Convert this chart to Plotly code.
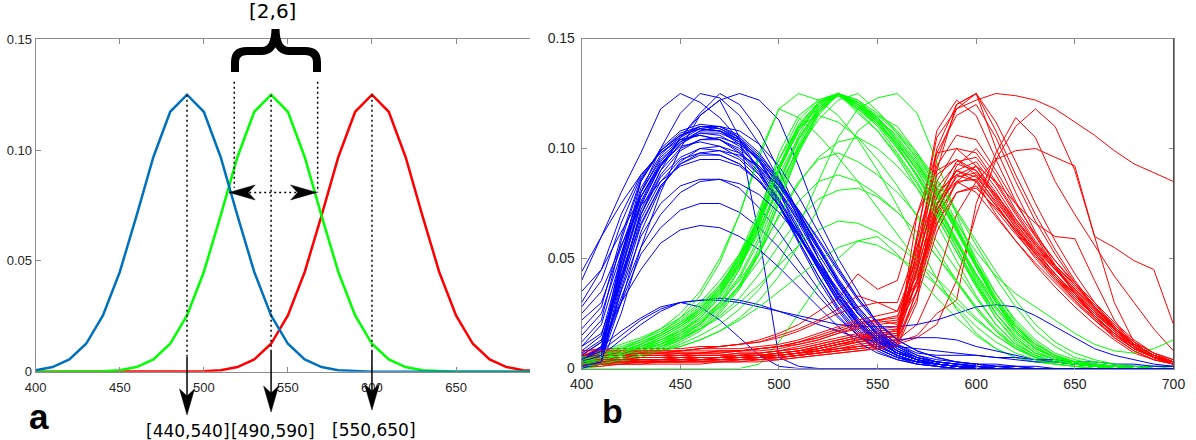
import plotly.graph_objects as go

W, H = 1196, 440

# ---------------- panel a : idealised sensitivity curves ----------------
wl_a = [400, 410, 420, 430, 440, 450, 460, 470, 480, 490, 500, 510, 520, 530, 540, 550,
        560, 570, 580, 590, 600, 610, 620, 630, 640, 650, 660, 670, 680, 690, 700]
blue_a = [0.0007, 0.0021, 0.0055, 0.0126, 0.0254, 0.0450, 0.0704, 0.0969, 0.1173, 0.125,
          0.1173, 0.0969, 0.0704, 0.0450, 0.0254, 0.0126, 0.0055, 0.0021, 0.0007, 0.0002,
          0, 0, 0, 0, 0, 0, 0, 0, 0, 0, 0]
green_a = [0, 0, 0, 0, 0.0002, 0.0007, 0.0021, 0.0055, 0.0126, 0.0254, 0.0450, 0.0704,
           0.0969, 0.1173, 0.125, 0.1173, 0.0969, 0.0704, 0.0450, 0.0254, 0.0126, 0.0055,
           0.0021, 0.0007, 0.0002, 0, 0, 0, 0, 0, 0]
red_a = [0, 0, 0, 0, 0, 0, 0, 0, 0, 0, 0.0002, 0.0007, 0.0021, 0.0055, 0.0126, 0.0254,
         0.0450, 0.0704, 0.0969, 0.1173, 0.125, 0.1173, 0.0969, 0.0704, 0.0450, 0.0254,
         0.0126, 0.0055, 0.0021, 0.0007, 0.0002]

peaks_a = [490, 540, 600]
peak_val = 0.125
dotted_end_y = [0.0066, 0.0098, 0.0098]
arrow_tip_y = [-0.0195, -0.0182, -0.0173]
range_labels = ["[440,540]", "[490,590]", "[550,650]"]
range_label_px = [(187.5, 430.5), (273, 430.5), (374, 430)]
overlap_label = "[2,6]"
cross_x = [518.1, 567.7]
cross_top_y = 0.1309
cross_bot_y = [0.083, 0.0809]
dbl_arrow_x = [515.1, 567.1]
dbl_arrow_y = 0.0809

# ---------------- panel b : measured sensitivities ----------------
wl_b = [400, 410, 420, 430, 440, 450, 460, 470, 480, 490, 500, 510, 520, 530, 540, 550,
        560, 570, 580, 590, 600, 610, 620, 630, 640, 650, 660, 670, 680, 690, 700]

blue_b = [
    [.004,.010,.045,.075,.092,.102,.108,.108,.102,.090,.075,.058,.042,.027,.016,.009,.005,.003,.002,.001,.001,0,0,0,0,0,0,0,0,0,0],
    [.002,.005,.050,.085,.100,.108,.111,.110,.105,.095,.080,.062,.045,.030,.018,.010,.006,.003,.002,.001,0,0,0,0,0,0,0,0,0,0,0],
    [.044,.060,.075,.088,.098,.105,.110,.109,.104,.094,.080,.064,.047,.032,.020,.012,.007,.004,.002,.001,.001,0,0,0,0,0,0,0,0,0,0],
    [.040,.060,.080,.098,.118,.125,.121,.114,.104,.090,.074,.057,.040,.026,.015,.008,.004,.002,.001,0,0,0,0,0,0,0,0,0,0,0,0],
    [.010,.020,.050,.080,.100,.116,.125,.123,.115,.102,.086,.068,.050,.034,.021,.012,.007,.004,.002,.001,0,0,0,0,0,0,0,0,0,0,0],
    [0,.002,.025,.055,.080,.100,.115,.122,.105,.060,.005,.001,0,0,0,0,0,0,0,0,0,0,0,0,0,0,0,0,0,0,0],
    [.030,.045,.062,.078,.092,.105,.115,.122,.125,.122,.113,.092,.068,.050,.035,.020,.005,.002,.001,0,0,0,0,0,0,0,0,0,0,0,0],
    [.005,.010,.040,.070,.090,.105,.116,.125,.120,.108,.090,.070,.050,.033,.020,.011,.006,.003,.001,0,0,0,0,0,0,0,0,0,0,0,0],
    [.002,.006,.035,.060,.075,.083,.086,.086,.082,.073,.062,.049,.036,.024,.015,.009,.005,.003,.002,.001,0,0,0,0,0,0,0,0,0,0,0],
    [.003,.008,.030,.052,.064,.072,.075,.075,.071,.064,.055,.044,.033,.023,.015,.009,.005,.003,.002,.001,0,0,0,0,0,0,0,0,0,0,0],
    [.006,.012,.030,.045,.057,.063,.065,.064,.060,.054,.046,.037,.028,.019,.012,.007,.004,.002,.001,0,0,0,0,0,0,0,0,0,0,0,0],
    [.035,.045,.070,.088,.098,.104,.106,.104,.098,.088,.074,.058,.042,.028,.017,.010,.006,.003,.002,.001,0,0,0,0,0,0,0,0,0,0,0],
    [.022,.030,.055,.080,.095,.103,.107,.106,.101,.091,.077,.061,.045,.030,.019,.011,.006,.003,.002,.001,0,0,0,0,0,0,0,0,0,0,0],
    [.004,.010,.017,.023,.028,.030,.031,.031,.030,.028,.026,.024,.022,.020,.019,.019,.019,.020,.022,.025,.028,.029,.028,.024,.019,.014,.009,.006,.004,.002,.001],
    [.003,.008,.015,.022,.027,.030,.031,.032,.031,.029,.026,.023,.020,.017,.014,.012,.010,.009,.008,.007,.006,.005,.004,.003,.003,.002,.002,.001,.001,.001,.001],
    [.002,.006,.013,.020,.026,.030,.028,.022,.014,.006,.001,0,0,0,0,0,0,0,0,0,0,0,0,0,0,0,0,0,0,0,0],
    [.008,.015,.048,.078,.094,.104,.109,.108,.104,.096,.085,.072,.058,.044,.031,.020,.013,.014,.014,.013,.010,.008,.006,.004,.003,.002,.001,.001,.001,0,0],
    [.001,.004,.040,.072,.090,.100,.104,.104,.100,.092,.081,.068,.054,.040,.028,.018,.011,.007,.006,.006,.006,.005,.005,.004,.004,.003,.003,.002,.002,.001,.001],
    [.015,.025,.052,.078,.093,.101,.103,.101,.096,.088,.077,.063,.048,.034,.022,.013,.008,.005,.003,.002,.001,0,0,0,0,0,0,0,0,0,0],
    [.003,.007,.042,.070,.087,.096,.100,.099,.095,.086,.074,.060,.045,.031,.020,.012,.007,.004,.003,.002,.002,.002,.001,.001,0,0,0,0,0,0,0],
    [.012,.022,.058,.085,.099,.107,.110,.109,.105,.097,.086,.071,.055,.039,.025,.015,.008,.004,.002,.001,0,0,0,0,0,0,0,0,0,0,0],
    [0,.003,.038,.068,.085,.095,.098,.097,.093,.085,.074,.060,.046,.032,.021,.012,.007,.004,.002,.001,0,0,0,0,0,0,0,0,0,0,0],
    [.006,.012,.046,.076,.093,.103,.108,.110,.108,.102,.092,.078,.062,.046,.032,.021,.013,.008,.005,.003,.002,.001,0,0,0,0,0,0,0,0,0],
    [.025,.035,.056,.074,.085,.092,.095,.095,.092,.085,.074,.061,.047,.034,.022,.013,.007,.004,.002,.001,0,0,0,0,0,0,0,0,0,0,0],
    [.005,.009,.052,.082,.097,.106,.110,.110,.106,.098,.086,.071,.055,.039,.025,.015,.008,.004,.002,.001,0,0,0,0,0,0,0,0,0,0,0],
    [.002,.004,.030,.062,.082,.094,.100,.101,.098,.091,.080,.067,.052,.038,.025,.015,.009,.005,.003,.002,.001,0,0,0,0,0,0,0,0,0,0],
    [.018,.028,.060,.086,.099,.106,.109,.108,.103,.094,.081,.066,.050,.035,.023,.014,.008,.004,.002,.001,0,0,0,0,0,0,0,0,0,0,0],
    [.004,.008,.044,.074,.092,.102,.107,.107,.103,.095,.083,.069,.054,.039,.026,.016,.009,.005,.003,.002,.001,.001,0,0,0,0,0,0,0,0,0],
    [.010,.016,.040,.066,.083,.093,.097,.097,.093,.085,.074,.061,.047,.034,.023,.014,.008,.004,.002,.001,0,0,0,0,0,0,0,0,0,0,0],
    [.003,.006,.048,.080,.096,.104,.106,.104,.099,.089,.076,.061,.046,.032,.021,.013,.007,.004,.002,.001,0,0,0,0,0,0,0,0,0,0,0],
    [.028,.040,.066,.087,.099,.106,.109,.108,.104,.096,.085,.071,.056,.041,.028,.018,.011,.006,.003,.002,.001,0,0,0,0,0,0,0,0,0,0],
    [.001,.003,.036,.065,.083,.093,.098,.099,.097,.092,.083,.072,.059,.045,.032,.021,.013,.008,.005,.003,.002,.001,.001,0,0,0,0,0,0,0,0],
    [.007,.013,.042,.070,.088,.099,.104,.105,.102,.095,.084,.070,.055,.040,.027,.017,.010,.005,.003,.002,.001,0,0,0,0,0,0,0,0,0,0],
    [.004,.009,.032,.055,.070,.080,.085,.086,.084,.079,.071,.060,.048,.036,.025,.016,.010,.006,.004,.003,.002,.001,.001,0,0,0,0,0,0,0,0],
]

green_b = [
    [.003,.005,.007,.010,.013,.017,.023,.032,.045,.065,.090,.108,.120,.125,.118,.111,.100,.088,.072,.055,.038,.023,.012,.006,.003,.002,.001,.001,0,0,0],
    [0,.002,.004,.007,.010,.014,.020,.030,.045,.070,.098,.115,.122,.125,.120,.112,.102,.090,.075,.058,.040,.025,.014,.007,.004,.002,.001,0,0,0,0],
    [.006,.008,.011,.014,.018,.023,.030,.040,.052,.068,.088,.105,.118,.125,.116,.108,.096,.082,.066,.049,.033,.020,.011,.006,.003,.002,.001,.001,0,0,0],
    [.004,.006,.009,.013,.018,.025,.035,.050,.070,.098,.118,.125,.122,.115,.104,.090,.074,.057,.041,.027,.016,.009,.005,.003,.002,.001,0,0,0,0,0],
    [.002,.003,.004,.006,.008,.011,.015,.020,.027,.036,.048,.065,.085,.105,.118,.123,.125,.116,.094,.070,.048,.030,.017,.009,.005,.003,.002,.001,0,0,0],
    [.002,.004,.006,.008,.011,.015,.020,.028,.038,.052,.070,.085,.095,.098,.094,.088,.080,.070,.058,.045,.032,.020,.011,.006,.003,.002,.001,0,0,0,0],
    [.003,.005,.007,.009,.012,.016,.021,.028,.037,.049,.063,.076,.085,.088,.085,.079,.071,.062,.051,.039,.027,.017,.009,.005,.003,.002,.001,0,0,0,0],
    [.002,.003,.005,.007,.010,.013,.018,.024,.032,.043,.056,.068,.077,.081,.082,.078,.071,.062,.051,.040,.028,.018,.010,.005,.003,.002,.001,0,0,0,0],
    [.004,.005,.007,.009,.011,.014,.018,.023,.030,.038,.047,.056,.063,.067,.066,.062,.056,.049,.041,.032,.023,.015,.009,.005,.003,.002,.001,.001,0,0,0],
    [0,0,0,0,0,0,0,0,0,.002,.012,.025,.038,.050,.058,.060,.052,.042,.032,.023,.015,.009,.005,.003,.002,.001,0,0,0,0,0],
    [.001,.002,.004,.006,.009,.013,.019,.027,.038,.055,.078,.100,.117,.125,.121,.114,.104,.093,.080,.066,.053,.042,.034,.028,.022,.016,.011,.008,.007,.009,.013],
    [.005,.007,.009,.012,.016,.021,.027,.036,.048,.064,.083,.100,.113,.122,.125,.117,.107,.095,.081,.065,.048,.032,.019,.010,.005,.003,.002,.001,0,0,0],
    [.002,.004,.006,.008,.011,.015,.021,.030,.042,.060,.084,.106,.121,.125,.119,.112,.103,.092,.078,.062,.046,.031,.019,.011,.006,.003,.002,.001,.001,0,0],
    [.004,.006,.008,.011,.015,.020,.026,.035,.047,.063,.084,.104,.119,.125,.118,.110,.098,.085,.069,.053,.037,.023,.013,.007,.004,.002,.001,0,0,0,0],
    [.003,.005,.008,.011,.015,.020,.027,.037,.052,.072,.095,.110,.115,.112,.105,.095,.083,.069,.054,.040,.027,.017,.010,.005,.003,.002,.001,0,0,0,0],
    [0,.001,.003,.005,.008,.012,.017,.025,.036,.052,.075,.098,.115,.125,.122,.116,.108,.098,.086,.072,.058,.044,.031,.020,.012,.007,.004,.002,.001,.001,0],
    [.002,.003,.004,.006,.008,.010,.013,.017,.022,.028,.035,.042,.049,.055,.058,.056,.051,.045,.038,.030,.022,.015,.009,.005,.003,.002,.001,0,0,0,0],
    [.003,.005,.007,.010,.014,.019,.025,.034,.046,.062,.082,.101,.116,.125,.121,.113,.101,.087,.071,.055,.039,.025,.014,.007,.004,.002,.001,0,0,0,0],
    [.001,.003,.005,.007,.010,.014,.020,.029,.041,.058,.080,.102,.118,.125,.120,.112,.101,.088,.073,.057,.041,.027,.016,.009,.005,.003,.002,.001,0,0,0],
    [.003,.005,.007,.010,.013,.017,.022,.030,.040,.053,.069,.084,.096,.103,.105,.100,.092,.082,.070,.057,.043,.030,.019,.011,.006,.003,.002,.001,0,0,0],
    [.002,.004,.007,.011,.016,.023,.033,.048,.070,.096,.118,.114,.106,.096,.085,.073,.061,.049,.038,.028,.019,.012,.007,.004,.002,.001,0,0,0,0,0],
    [.002,.003,.004,.006,.008,.010,.013,.017,.023,.031,.042,.056,.073,.092,.108,.115,.110,.098,.082,.064,.046,.030,.018,.010,.005,.003,.002,.001,0,0,0],
    [.004,.006,.008,.011,.015,.020,.027,.037,.050,.068,.092,.110,.121,.125,.120,.113,.104,.093,.079,.063,.046,.030,.017,.009,.005,.003,.001,.001,0,0,0],
    [.002,.003,.005,.008,.011,.016,.023,.033,.047,.066,.090,.109,.120,.125,.119,.113,.106,.096,.083,.067,.050,.034,.021,.012,.006,.003,.002,.001,0,0,0],
    [.005,.007,.010,.013,.017,.022,.029,.038,.050,.066,.086,.104,.117,.124,.120,.114,.105,.094,.080,.064,.047,.032,.020,.011,.006,.003,.002,.001,0,0,0],
    [.001,.002,.004,.006,.009,.013,.018,.026,.037,.053,.076,.099,.116,.125,.122,.114,.103,.090,.075,.059,.043,.028,.017,.009,.005,.003,.001,.001,0,0,0],
    [.003,.004,.006,.009,.012,.017,.024,.034,.048,.067,.091,.110,.121,.124,.118,.111,.102,.091,.078,.063,.048,.034,.022,.013,.007,.004,.002,.001,.001,0,0],
    [.002,.004,.006,.009,.013,.018,.025,.035,.049,.068,.092,.111,.121,.125,.119,.111,.100,.088,.074,.058,.042,.028,.017,.009,.005,.002,.001,0,0,0,0],
    [.004,.006,.009,.012,.016,.021,.028,.038,.051,.069,.091,.108,.119,.124,.121,.115,.107,.097,.085,.071,.056,.041,.028,.017,.010,.005,.003,.002,.001,0,0],
    [.003,.005,.007,.010,.014,.019,.026,.036,.050,.070,.095,.113,.122,.125,.117,.108,.097,.084,.069,.053,.038,.025,.015,.008,.004,.002,.001,0,0,0,0],
]

red_b = [
    [.004,.004,.005,.005,.005,.005,.005,.005,.006,.006,.007,.008,.010,.012,.014,.014,.015,.045,.095,.118,.125,.108,.088,.070,.054,.040,.028,.018,.010,.005,.003],
    [.003,.003,.004,.004,.004,.004,.005,.005,.005,.006,.006,.007,.009,.011,.013,.014,.014,.040,.075,.090,.085,.070,.058,.047,.037,.028,.020,.013,.007,.004,.002],
    [.006,.006,.007,.007,.007,.007,.007,.008,.008,.009,.010,.012,.015,.018,.021,.022,.020,.035,.065,.085,.092,.080,.066,.054,.043,.033,.024,.016,.009,.005,.003],
    [.002,.002,.003,.003,.003,.004,.004,.004,.005,.005,.006,.007,.008,.010,.012,.014,.018,.060,.105,.118,.122,.125,.124,.122,.118,.112,.106,.099,.093,.089,.085],
    [.003,.003,.003,.004,.004,.004,.004,.005,.005,.005,.006,.007,.008,.009,.010,.011,.012,.015,.025,.031,.075,.098,.114,.105,.085,.070,.056,.042,.030,.018,.008],
    [.002,.002,.003,.003,.003,.003,.004,.004,.004,.005,.005,.006,.007,.008,.009,.010,.011,.014,.020,.040,.070,.095,.110,.118,.110,.090,.060,.055,.049,.045,.020],
    [.003,.003,.003,.004,.004,.004,.004,.004,.005,.005,.006,.007,.008,.009,.010,.011,.013,.020,.040,.070,.085,.095,.099,.100,.096,.092,.060,.030,.012,.005,.002],
    [.005,.006,.006,.007,.007,.008,.009,.010,.011,.013,.016,.020,.026,.032,.043,.036,.040,.070,.090,.095,.088,.075,.062,.050,.040,.031,.023,.016,.010,.006,.003],
    [.008,.009,.009,.009,.009,.009,.010,.010,.011,.012,.014,.017,.021,.025,.028,.030,.030,.055,.080,.088,.085,.074,.063,.052,.042,.033,.025,.018,.011,.006,.003],
    [.002,.002,.002,.003,.003,.003,.003,.003,.004,.004,.005,.006,.007,.008,.009,.010,.010,.030,.090,.120,.125,.100,.080,.062,.047,.034,.023,.014,.008,.004,.002],
    [.003,.003,.004,.004,.004,.005,.005,.005,.006,.006,.007,.008,.009,.011,.012,.013,.015,.060,.108,.122,.115,.095,.076,.060,.046,.034,.024,.015,.009,.005,.003],
    [.004,.004,.005,.005,.005,.005,.006,.006,.006,.007,.008,.009,.011,.013,.015,.017,.018,.040,.070,.084,.088,.078,.066,.055,.045,.035,.026,.018,.011,.006,.003],
    [.002,.003,.003,.003,.003,.003,.004,.004,.004,.005,.005,.006,.008,.010,.012,.013,.013,.035,.068,.085,.086,.074,.062,.052,.042,.032,.024,.016,.009,.005,.002],
    [.003,.003,.004,.004,.004,.004,.005,.005,.005,.006,.006,.007,.009,.011,.013,.014,.015,.040,.072,.088,.092,.085,.075,.066,.060,.059,.040,.022,.010,.005,.002],
    [.003,.003,.003,.003,.004,.004,.004,.004,.004,.005,.005,.006,.007,.008,.010,.011,.012,.070,.098,.100,.092,.078,.065,.053,.043,.034,.025,.017,.010,.005,.003],
    [.005,.005,.005,.006,.006,.006,.006,.006,.007,.007,.008,.009,.011,.013,.015,.016,.017,.045,.075,.085,.080,.069,.058,.048,.039,.030,.022,.015,.009,.005,.002],
    [.006,.007,.007,.008,.008,.008,.009,.010,.011,.012,.015,.018,.022,.027,.033,.030,.026,.050,.078,.090,.087,.076,.064,.053,.043,.034,.026,.018,.011,.006,.003],
    [.003,.004,.004,.004,.004,.005,.005,.005,.006,.006,.007,.008,.010,.012,.014,.015,.016,.050,.098,.115,.120,.105,.085,.067,.052,.039,.028,.018,.010,.005,.003],
    [.007,.007,.007,.007,.007,.008,.008,.008,.008,.009,.010,.011,.013,.016,.019,.021,.022,.038,.070,.092,.100,.088,.072,.060,.049,.039,.030,.021,.013,.007,.004],
    [.001,.001,.002,.002,.002,.002,.002,.003,.003,.003,.004,.005,.006,.007,.008,.009,.012,.055,.088,.095,.090,.077,.064,.052,.041,.031,.022,.014,.008,.004,.002],
    [.004,.005,.005,.006,.006,.006,.007,.007,.008,.009,.010,.012,.014,.017,.020,.022,.023,.052,.100,.120,.125,.112,.094,.075,.058,.043,.030,.019,.011,.006,.003],
    [.004,.005,.005,.005,.005,.006,.006,.006,.007,.007,.008,.010,.012,.014,.016,.018,.019,.048,.082,.093,.090,.079,.067,.056,.046,.036,.027,.019,.011,.006,.003],
    [.002,.002,.003,.003,.003,.003,.003,.004,.004,.004,.005,.006,.007,.009,.011,.012,.013,.032,.062,.080,.083,.072,.061,.051,.041,.032,.024,.016,.009,.005,.002],
    [.005,.006,.006,.006,.006,.007,.007,.007,.008,.008,.009,.011,.013,.016,.018,.020,.021,.044,.078,.094,.096,.084,.070,.057,.046,.036,.027,.018,.011,.006,.003],
    [.003,.003,.004,.004,.004,.004,.004,.005,.005,.005,.006,.007,.009,.011,.013,.015,.016,.058,.092,.106,.104,.090,.075,.061,.049,.038,.028,.019,.011,.006,.003],
    [.006,.006,.006,.007,.007,.007,.007,.008,.008,.009,.010,.012,.014,.017,.020,.022,.024,.040,.066,.080,.082,.073,.063,.054,.045,.036,.028,.020,.012,.007,.003],
    [.002,.002,.002,.002,.003,.003,.003,.003,.003,.004,.004,.005,.006,.007,.008,.009,.010,.036,.074,.090,.094,.082,.068,.056,.045,.035,.026,.017,.010,.005,.002],
    [.004,.004,.004,.005,.005,.005,.005,.005,.006,.006,.007,.008,.010,.012,.014,.016,.017,.046,.085,.100,.098,.085,.071,.058,.047,.037,.028,.019,.011,.006,.003],
    [.008,.008,.008,.008,.008,.008,.009,.009,.009,.010,.011,.013,.016,.019,.022,.024,.026,.042,.072,.087,.089,.079,.068,.057,.047,.038,.029,.020,.012,.007,.004],
]

# ---------------- geometry ----------------
XA_DOM = [35.7 / W, 530 / W]
YA_DOM = [1 - 371.7 / H, 1 - 39.3 / H]
XA_RANGE = [400, 694]
XB_DOM = [581.7 / W, 1173.5 / W]
YB_DOM = [1 - 368.5 / H, 1 - 38.5 / H]
Y_RANGE = [0, 0.15]

BLUE_A, GREEN_A, RED_A = "#0072BD", "#00FF00", "#FF0000"
BLUE_B, GREEN_B, RED_B = "#0000FF", "#00FF00", "#FF0000"
AXIS_COL = "#8c8c8c"
TICK_COL = "#262626"


def a_px(x, y):
    x0, x1 = XA_DOM[0] * W, XA_DOM[1] * W
    px = x0 + (x - XA_RANGE[0]) / (XA_RANGE[1] - XA_RANGE[0]) * (x1 - x0)
    yb, yt = (1 - YA_DOM[0]) * H, (1 - YA_DOM[1]) * H
    py = yb - (y - Y_RANGE[0]) / (Y_RANGE[1] - Y_RANGE[0]) * (yb - yt)
    return px, py


def ppath(cmds):
    out = ""
    for c, pts in cmds:
        out += c + " ".join(f"{px / W:.5f},{1 - py / H:.5f}" for px, py in pts) + " "
    return out.strip()


fig = go.Figure()

# panel a curves (red, green, blue order so blue is on top)
for vals, col in [(red_a, RED_A), (green_a, GREEN_A), (blue_a, BLUE_A)]:
    fig.add_trace(go.Scatter(x=wl_a, y=vals, mode="lines", line=dict(color=col, width=2.5),
                             xaxis="x", yaxis="y", hoverinfo="skip", showlegend=False))

DOT = "2px,3px"
for xp, ye in zip(peaks_a, dotted_end_y):
    fig.add_trace(go.Scatter(x=[xp, xp], y=[peak_val, ye], mode="lines",
                             line=dict(color="black", width=1.5, dash=DOT),
                             xaxis="x", yaxis="y", hoverinfo="skip", showlegend=False))
for xc, yb in zip(cross_x, cross_bot_y):
    fig.add_trace(go.Scatter(x=[xc, xc], y=[cross_top_y, yb], mode="lines",
                             line=dict(color="black", width=1.5, dash=DOT),
                             xaxis="x", yaxis="y", hoverinfo="skip", showlegend=False))
fig.add_trace(go.Scatter(x=dbl_arrow_x, y=[dbl_arrow_y, dbl_arrow_y], mode="lines",
                         line=dict(color="black", width=1.5, dash=DOT),
                         xaxis="x", yaxis="y", hoverinfo="skip", showlegend=False))

# panel b curves
n = max(len(blue_b), len(green_b), len(red_b))
for i in range(n):
    for group, col in [(blue_b, BLUE_B), (green_b, GREEN_B), (red_b, RED_B)]:
        if i < len(group):
            assert len(group[i]) == len(wl_b), (col, i, len(group[i]))
            fig.add_trace(go.Scatter(x=wl_b, y=group[i], mode="lines",
                                     line=dict(color=col, width=1),
                                     xaxis="x2", yaxis="y2", hoverinfo="skip",
                                     showlegend=False))

shapes = []
brace = [("M", [(235, 72)]), ("L", [(235, 62)]), ("Q", [(235, 51), (247, 51)]),
         ("L", [(262, 51)]), ("Q", [(275, 51), (275.5, 29)]), ("Q", [(276, 51), (289, 51)]),
         ("L", [(305, 51)]), ("Q", [(317, 51), (317, 62)]), ("L", [(317, 72)])]
shapes.append(dict(type="path", xref="paper", yref="paper", path=ppath(brace),
                   line=dict(color="black", width=8), fillcolor="rgba(0,0,0,0)", layer="above"))

HL, HW, NOTCH = 26, 7.5, 19
for xp, ys, yt in zip(peaks_a, dotted_end_y, arrow_tip_y):
    tx, ty = a_px(xp, yt)
    _, sy = a_px(xp, ys)
    shapes.append(dict(type="line", xref="paper", yref="paper",
                       x0=tx / W, x1=tx / W, y0=1 - sy / H, y1=1 - (ty - NOTCH) / H,
                       line=dict(color="black", width=1.5), layer="above"))
    head = [("M", [(tx, ty)]), ("L", [(tx - HW, ty - HL)]), ("L", [(tx, ty - NOTCH)]),
            ("L", [(tx + HW, ty - HL)]), ("Z", [])]
    shapes.append(dict(type="path", xref="paper", yref="paper", path=ppath(head),
                       line=dict(color="black", width=0.5), fillcolor="black", layer="above"))

lx, hy = a_px(dbl_arrow_x[0], dbl_arrow_y)
rx, _ = a_px(dbl_arrow_x[1], dbl_arrow_y)
for tx, sgn in [(lx, 1), (rx, -1)]:
    head = [("M", [(tx, hy)]), ("L", [(tx + sgn * HL, hy - HW)]), ("L", [(tx + sgn * NOTCH, hy)]),
            ("L", [(tx + sgn * HL, hy + HW)]), ("Z", [])]
    shapes.append(dict(type="path", xref="paper", yref="paper", path=ppath(head),
                       line=dict(color="black", width=0.5), fillcolor="black", layer="above"))

# darker right-hand frame edge of panel b
shapes.append(dict(type="line", xref="paper", yref="paper", x0=XB_DOM[1], x1=XB_DOM[1],
                   y0=YB_DOM[0], y1=YB_DOM[1], line=dict(color="#4d4d4d", width=1), layer="above"))

annotations = []
for txt, (px, py) in zip(range_labels, range_label_px):
    annotations.append(dict(text=txt, x=px / W, y=1 - py / H, xref="paper", yref="paper",
                            xanchor="center", yanchor="middle", showarrow=False,
                            font=dict(family="DejaVu Sans", size=17, color="black")))
annotations.append(dict(text=overlap_label, x=272.5 / W, y=1 - 10.5 / H, xref="paper", yref="paper",
                        xanchor="center", yanchor="middle", showarrow=False,
                        font=dict(family="DejaVu Sans", size=20, color="black")))
annotations.append(dict(text="<b>a</b>", x=38.5 / W, y=1 - 416 / H, xref="paper", yref="paper",
                        xanchor="center", yanchor="middle", showarrow=False,
                        font=dict(family="Liberation Sans", size=35, color="black")))
annotations.append(dict(text="<b>b</b>", x=612 / W, y=1 - 411 / H, xref="paper", yref="paper",
                        xanchor="center", yanchor="middle", showarrow=False,
                        font=dict(family="Liberation Sans", size=34, color="black")))

ax_common = dict(showgrid=False, zeroline=False, showline=True, linecolor=AXIS_COL, linewidth=1,
                 ticks="inside", ticklen=5, tickcolor=AXIS_COL, tickwidth=1, automargin=False)

fig.update_layout(
    width=W, height=H, margin=dict(l=0, r=0, t=0, b=0, autoexpand=False),
    paper_bgcolor="white", plot_bgcolor="white", showlegend=False,
    xaxis=dict(domain=XA_DOM, range=XA_RANGE, anchor="y", mirror="ticks",
               tickvals=[400, 450, 500, 550, 600, 650], ticklabelstandoff=4,
               tickfont=dict(family="Liberation Sans", size=13, color=TICK_COL), **ax_common),
    yaxis=dict(domain=YA_DOM, range=Y_RANGE, anchor="x", mirror=False,
               tickvals=[0, 0.05, 0.10, 0.15], ticktext=["0", "0.05", "0.10", "0.15"],
               tickfont=dict(family="Liberation Sans", size=13, color=TICK_COL), **ax_common),
    xaxis2=dict(domain=XB_DOM, range=[400, 700], anchor="y2", mirror="ticks",
                tickvals=[400, 450, 500, 550, 600, 650, 700], ticklabelstandoff=3,
                tickfont=dict(family="Liberation Sans", size=14, color=TICK_COL), **ax_common),
    yaxis2=dict(domain=YB_DOM, range=Y_RANGE, anchor="x2", mirror="ticks",
                tickvals=[0, 0.05, 0.10, 0.15], ticktext=["0", "0.05", "0.10", "0.15"],
                ticklabelstandoff=3,
                tickfont=dict(family="Liberation Sans", size=14, color=TICK_COL), **ax_common),
    shapes=shapes, annotations=annotations,
)

fig.write_html("out.html")
